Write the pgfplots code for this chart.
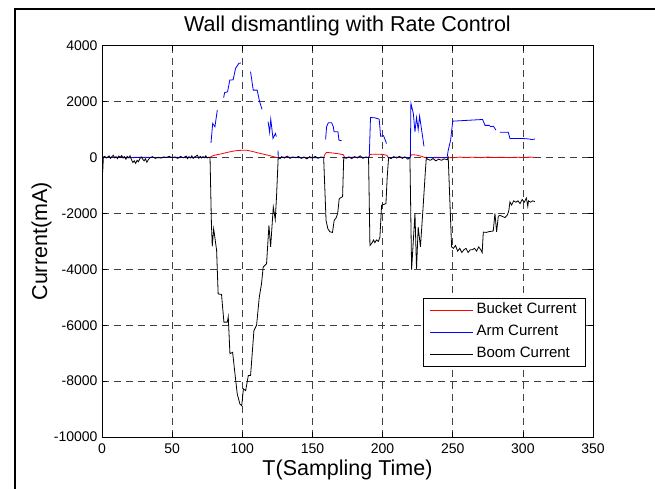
\documentclass[border=0pt]{standalone}
\usepackage{fontspec}
\setmainfont{Liberation Sans}
\usepackage{pgfplots}
\pgfplotsset{compat=1.18}

\begin{document}
\begin{tikzpicture}
% page = 655 x 489 (1pt = 1px of the reference)
\path[use as bounding box] (0pt,0pt) rectangle (655pt,489pt);
\draw[line width=2pt] (15pt,-5pt) -- (15pt,479.7pt) -- (660pt,479.7pt);

\begin{axis}[
    at={(102pt,52pt)}, anchor=south west,
    scale only axis,
    width=491pt, height=391.3pt,
    xmin=0, xmax=350, ymin=-10000, ymax=4000,
    xtick={0,50,...,350},
    ytick={-10000,-8000,...,4000},
    scaled y ticks=false,
    /pgf/number format/assume math mode=true,
    /pgf/number format/1000 sep={},
    grid=major,
    major grid style={black!75, line width=0.6pt, dash pattern=on 7pt off 5pt},
    tick align=inside,
    major tick length=5pt,
    tick style={black, line width=0.6pt},
    axis line style={line width=0.9pt},
    ticklabel style={font=\fontsize{14}{16}\selectfont},
    xticklabel style={yshift=-3pt, text depth=0pt},
    yticklabel style={xshift=-1pt},
    title={Wall dismantling with Rate Control},
    title style={font=\fontsize{21.5}{24}\selectfont, at={(axis description cs:0.5,1.02)}, anchor=base},
    xlabel={T(Sampling Time)},
    xlabel style={font=\fontsize{21.5}{24}\selectfont, at={(axis description cs:0.5,-0.098)}, anchor=base},
    ylabel={Current(mA)},
    ylabel style={font=\fontsize{21.5}{24}\selectfont, at={(axis description cs:-0.112,0.5)}, anchor=base, rotate=0},
    unbounded coords=jump,
    legend style={at={(axis description cs:0.9857,0.3552)}, anchor=north east,
        font=\fontsize{15}{17}\selectfont, line width=0.8pt,
        inner xsep=6pt, inner ysep=1pt, row sep=0pt,
        nodes={inner xsep=3pt, inner ysep=3.5pt, text height=11pt, text depth=4pt}},
    legend cell align=left,
    legend image code/.code={\draw[#1, line width=1pt] (0pt,0pt) -- (43pt,0pt);},
]

% Bucket current
\addplot[color=red, line width=0.8pt] coordinates {
(0,0) (5,10) (10,-10) (15,15) (20,-5) (25,10) (30,-10) (35,5) (40,-5) (45,10) (50,0)
(55,-10) (60,10) (65,-5) (70,5) (77,0)
(78,40) (80,80) (85,130) (90,190) (95,240) (100,260) (103,260) (106,230) (110,180)
(115,120) (120,60) (123,20) (125,0)
(130,5) (140,-5) (150,5) (158,0)
(159,120) (160,180) (163,170) (166,150) (169,130) (172,100) (173,0)
(180,5) (190,0)
(191,110) (195,120) (200,110) (203,80) (204,0)
(210,5) (219.5,0)
(220.5,100) (224,90) (228,40) (230,0)
(240,5) (250,-10) (255,15) (260,0) (265,10) (270,-5) (275,15) (280,0)
(285,10) (290,-5) (295,10) (300,0) (305,15) (308.6,0)
};
\addlegendentry{Bucket Current}

% Arm current
\addplot[color=blue, line width=0.8pt] coordinates {
(0,0) (10,10) (20,-10) (30,10) (40,-10) (50,10) (60,-5) (70,10) (77,0)
(77.5,nan)
(77.7,520) (78.9,1220) (80.5,1100) (82.2,1700)
(84,nan)
(86.7,2140) (87.4,2320) (89.5,2350) (91.1,2770) (93.5,2780) (95.2,3190) (97.6,3370) (99.0,3380)
(102,nan)
(105.9,3070) (107.8,2410) (110.6,2410) (112.4,1990) (114.1,1720)
(116,nan)
(118.4,1280) (119.5,900) (120.3,1370) (121.9,680) (123.6,860) (124.3,750)
(125,nan)
(125.5,250) (125.6,0) (135,10) (145,-10) (158,0)
(158.8,nan)
(159.4,650) (160.1,1100) (161.3,1240) (163.7,1240) (164.9,1100) (165.4,920) (168.2,920)
(168.9,620) (170.8,600)
(171.5,nan)
(172.3,0) (180,10) (190,0)
(190.5,20) (191.4,1430) (194.5,1420) (197.6,1370) (198.6,760) (200.7,780) (202.8,500)
(203.5,nan)
(204.3,0) (212,10) (219.5,0)
(219.8,20) (220.2,1940) (221.9,1580) (223.1,920) (224.2,1430) (225.4,1000) (226.4,1480)
(228.9,620) (229.5,400)
(230.5,nan)
(231.2,0) (240,-10) (246,0)
(246.8,260) (248.5,620) (249.7,1160) (250,1300) (271.3,1360) (273,1150) (276,1150)
(277,1100) (279,1120) (280.8,980)
(282,nan)
(283.7,900) (289.6,900) (290.8,680) (300,680) (305,660) (306,640) (308.6,660)
};
\addlegendentry{Arm Current}

% Boom current
\addplot[color=black, line width=0.8pt] coordinates {
(0,0) (0.5,-520) (1,20) (2,40) (3,-20) (4,10) (5,60) (6,-30) (7,20) (8,80) (9,-10)
(10,30) (11,-40) (12,50) (13,0) (14,70) (15,-20) (16,30) (17,-60) (18,40) (19,-10)
(20,60) (21,-80) (22,-180) (23,-120) (24,-210) (25,-100) (26,-150) (27,-40) (28,20)
(29,-60) (30,-120) (31,-50) (32,-170) (33,-80) (34,-20) (36,30) (38,-30) (40,10)
(42,-20) (44,20) (46,0) (48,40) (50,-10) (52,20) (54,-30) (56,40) (58,-10) (60,50)
(61,-40) (62,30) (63,-20) (64,60) (65,-30) (66,20) (68,80) (69,-30) (70,40) (71,-20)
(72,30) (73,-10) (74,60) (75,-20) (76,10) (77,0)
(78,-2370) (78.6,-3180) (79.6,-2550) (81.7,-3320) (82.8,-4880) (85.2,-4900) (86.9,-5890)
(89.3,-5890) (90,-5700) (91.2,-7020) (93.1,-6970) (94.8,-7740) (96.4,-8460) (98.3,-8820)
(99.6,-8880) (100.8,-8280) (102.4,-8340) (104.3,-7800) (105.9,-7800) (108.3,-6190)
(110.2,-6000) (112.1,-5000) (113.7,-4520) (114.9,-3920) (117.3,-3800) (119,-2430)
(120.2,-3200) (122.1,-1770) (123.5,-2220) (124.4,-1410) (125.6,0)
(127,-40) (128,30) (130,-20) (132,50) (134,-30) (136,20) (138,-10) (140,40) (142,-30)
(144,20) (146,-50) (148,30) (150,-20) (152,40) (154,-30) (156,20) (158,0)
(159.7,-2250) (161,-2550) (162.5,-2660) (164.3,-2680) (165.5,-2250) (167,-2150)
(168,-2000) (169.1,-1470) (171.5,-1400) (172.3,0)
(174,-30) (176,20) (178,-40) (180,30) (182,-20) (184,60) (186,-30) (188,20) (190,0)
(191,-3150) (192.5,-3050) (193.6,-2950) (194.5,-3050) (195.6,-2950) (197,-3000)
(198.1,-2850) (199.3,-1710) (202.4,-1650) (203.3,-700) (204.3,0)
(206,-40) (208,30) (210,-20) (212,40) (214,-30) (216,20) (218,-60) (219.5,0)
(220.7,-4010) (221.9,-3000) (223.1,-2000) (224.2,-3980) (225.4,-2490) (227,-3200)
(228.9,-1770) (230.4,-570) (231.2,0)
(232,-60) (234,-100) (236,-40) (238,-120) (240,-60) (242,-100) (244,-50) (246,-80) (246.8,0)
(249.2,-3200) (250.5,-3250) (252,-3150) (253.5,-3350) (255,-3250) (256.5,-3400)
(258,-3300) (259.5,-3250) (261,-3400) (262.5,-3300) (264,-3300) (265.5,-3250)
(267,-3350) (268.5,-3200) (270,-3300) (271,-3400) (271.8,-2670) (274,-2680) (276,-2650)
(278.9,-2630) (280.1,-2000) (281.3,-2660) (282.5,-2100) (283.7,-2070) (285,-2100)
(287.3,-2150) (289,-2050) (290,-1900) (290.8,-1590) (292,-1700) (293.5,-1550) (295,-1600)
(296.5,-1550) (298,-1650) (299.5,-1500) (301,-1600) (302.5,-1450) (303.5,-1750)
(304,-1550) (305.5,-1600) (307,-1550) (308.6,-1580)
};
\addlegendentry{Boom Current}

\end{axis}
\end{tikzpicture}
\end{document}
